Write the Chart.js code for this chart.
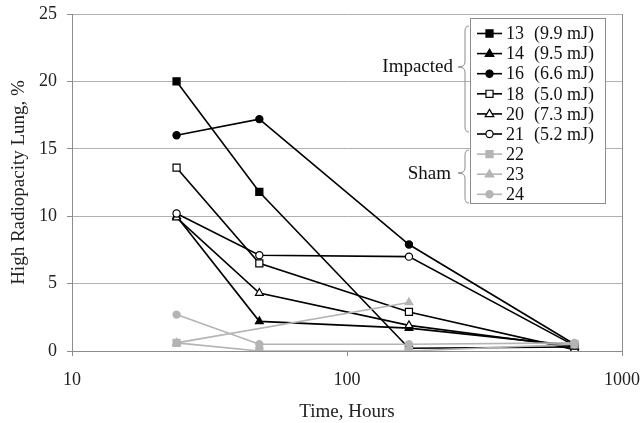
<!DOCTYPE html>
<html>
<head>
<meta charset="utf-8">
<script src="https://cdn.jsdelivr.net/npm/chart.js@4/dist/chart.umd.min.js"></script>
<style>
html,body{margin:0;padding:0;background:#fff;}
#wrap{width:642px;height:423px;position:relative;}
</style>
</head>
<body>
<div id="wrap"><canvas id="c" width="642" height="423"></canvas></div>
<script>
// ---- data ----
const hours = [24, 48, 168, 672];
const xTicks = [10, 100, 1000];
const yTicks = [0, 5, 10, 15, 20, 25];
const seriesNames = ['13', '14', '16', '18', '20', '21', '22', '23', '24'];
const seriesEnergy = ['(9.9 mJ)', '(9.5 mJ)', '(6.6 mJ)', '(5.0 mJ)', '(7.3 mJ)', '(5.2 mJ)', '', '', ''];
const s13 = [20.0, 11.8, 0.2, 0.3];
const s14 = [10.0, 2.2, 1.7, 0.4];
const s16 = [16.0, 17.2, 7.9, 0.5];
const s18 = [13.6, 6.5, 2.9, 0.1];
const s20 = [9.9, 4.3, 1.9, 0.3];
const s21 = [10.2, 7.1, 7.0, 0.4];
const s22 = [0.6, 0.0, 0.0, 0.5];
const s23 = [0.6, null, 3.6, null];
const s24 = [2.7, 0.5, 0.5, 0.6];
const seriesValues = [s13, s14, s16, s18, s20, s21, s22, s23, s24];

// ---- styles ----
const BLACK = '#000000';
const GRAY = '#b4b4b4';
const styles = [
  {color: BLACK, shape: 'rect', fill: true},
  {color: BLACK, shape: 'triangle', fill: true},
  {color: BLACK, shape: 'circle', fill: true},
  {color: BLACK, shape: 'rect', fill: false},
  {color: BLACK, shape: 'triangle', fill: false},
  {color: BLACK, shape: 'circle', fill: false},
  {color: GRAY, shape: 'rect', fill: true},
  {color: GRAY, shape: 'triangle', fill: true},
  {color: GRAY, shape: 'circle', fill: true}
];
const radiusFor = s => s === 'rect' ? 5 : (s === 'triangle' ? 4.5 : 3.6);

const datasets = seriesNames.map((name, i) => {
  const st = styles[i];
  const pts = [];
  hours.forEach((h, j) => { if (seriesValues[i][j] !== null) pts.push({x: h, y: seriesValues[i][j]}); });
  return {
    label: name,
    data: pts,
    borderColor: st.color,
    backgroundColor: st.fill ? st.color : '#ffffff',
    pointBorderColor: st.color,
    pointBackgroundColor: st.fill ? st.color : '#ffffff',
    pointStyle: st.shape,
    pointRadius: radiusFor(st.shape),
    pointBorderWidth: 1.2,
    borderWidth: 1.6,
    tension: 0,
    spanGaps: true,
    order: 9 - i
  };
});

const FONT = "'Liberation Serif', 'Times New Roman', serif";
const AXIS = '#8c8c8c';

// custom legend with braces
function drawMarker(ctx, shape, x, y, r, fill, color) {
  ctx.save();
  ctx.lineWidth = 1.2;
  ctx.strokeStyle = color;
  ctx.fillStyle = fill ? color : '#ffffff';
  ctx.beginPath();
  if (shape === 'rect') {
    const s = r * Math.SQRT1_2;
    ctx.rect(x - s, y - s, 2 * s, 2 * s);
  } else if (shape === 'triangle') {
    ctx.moveTo(x, y - r);
    ctx.lineTo(x + r * 0.95, y + r * 0.6);
    ctx.lineTo(x - r * 0.95, y + r * 0.6);
    ctx.closePath();
  } else {
    ctx.arc(x, y, r, 0, Math.PI * 2);
  }
  ctx.fill();
  ctx.stroke();
  ctx.restore();
}
function drawBrace(ctx, x, y1, y2, ym) {
  const w = 7;
  ctx.beginPath();
  ctx.moveTo(x + 4, y1);
  ctx.quadraticCurveTo(x, y1, x, y1 + 5);
  ctx.lineTo(x, ym - 5);
  ctx.quadraticCurveTo(x, ym, x - w, ym);
  ctx.quadraticCurveTo(x, ym, x, ym + 5);
  ctx.lineTo(x, y2 - 5);
  ctx.quadraticCurveTo(x, y2, x + 4, y2);
  ctx.stroke();
}
const legendPlugin = {
  id: 'customLegend',
  afterDatasetsDraw(chart) {
    const ctx = chart.ctx;
    const bx = 470, by = 18, bw = 135, bh = 185;
    ctx.save();
    ctx.fillStyle = '#ffffff';
    ctx.fillRect(bx, by, bw, bh);
    ctx.strokeStyle = '#8c8c8c';
    ctx.lineWidth = 1;
    ctx.strokeRect(bx + 0.5, by + 0.5, bw, bh);
    ctx.font = '18px ' + FONT;
    ctx.textBaseline = 'middle';
    chart.data.datasets.forEach((ds, i) => {
      const y = 33.5 + i * 20.1;
      const st = styles[i];
      ctx.strokeStyle = st.color;
      ctx.lineWidth = 1.6;
      ctx.beginPath();
      ctx.moveTo(477, y);
      ctx.lineTo(502, y);
      ctx.stroke();
      drawMarker(ctx, st.shape, 489.5, y, radiusFor(st.shape), st.fill, st.color);
      ctx.fillStyle = '#111';
      ctx.textAlign = 'left';
      ctx.fillText(ds.label, 506, y + 1);
      if (seriesEnergy[i]) ctx.fillText(seriesEnergy[i], 534, y + 1);
    });
    ctx.strokeStyle = '#8c8c8c';
    ctx.lineWidth = 1;
    drawBrace(ctx, 465, 26, 132, 67);
    drawBrace(ctx, 465, 150, 203, 173);
    ctx.fillStyle = '#111';
    ctx.textAlign = 'right';
    ctx.font = '19px ' + FONT;
    ctx.fillText('Impacted', 453, 67);
    ctx.fillText('Sham', 451, 174);
    ctx.restore();
  }
};

new Chart(document.getElementById('c'), {
  type: 'line',
  data: {datasets},
  options: {
    responsive: false,
    animation: false,
    devicePixelRatio: 1,
    layout: {padding: {left: 0, right: 20, top: 14, bottom: 0}},
    plugins: {legend: {display: false}, tooltip: {enabled: false}},
    elements: {line: {fill: false}},
    scales: {
      x: {
        type: 'logarithmic',
        min: 10, max: 1000,
        afterBuildTicks: s => { s.ticks = xTicks.map(v => ({value: v})); },
        afterFit: s => { s.height = 72; s.paddingLeft = 0; s.paddingRight = 0; },
        ticks: {
          callback: v => String(v),
          color: '#222', font: {family: FONT, size: 18}, padding: 13, maxRotation: 0, autoSkip: false
        },
        grid: {
          color: c => (c.tick && c.tick.value === 1000) ? AXIS : 'transparent',
          tickColor: AXIS, tickLength: 5, lineWidth: 1
        },
        border: {color: AXIS, width: 1},
        title: {display: true, text: 'Time, Hours', color: '#222', font: {family: FONT, size: 19}, padding: {top: 0, bottom: 0}}
      },
      y: {
        min: 0, max: 25,
        afterBuildTicks: s => { s.ticks = yTicks.map(v => ({value: v})); },
        afterFit: s => { s.width = 72; s.paddingTop = 0; s.paddingBottom = 0; },
        ticks: {color: '#222', font: {family: FONT, size: 18}, padding: 10},
        grid: {color: '#b0b0b0', tickColor: AXIS, tickLength: 5, lineWidth: 1},
        border: {color: AXIS, width: 1},
        title: {display: true, text: 'High Radiopacity Lung, %', color: '#222', font: {family: FONT, size: 19}, padding: {top: 8, bottom: 0}}
      }
    }
  },
  plugins: [legendPlugin]
});
</script>
</body>
</html>
